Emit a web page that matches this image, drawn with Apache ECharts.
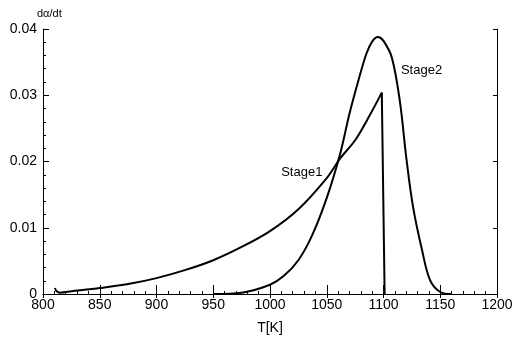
<!DOCTYPE html>
<html><head><meta charset="utf-8">
<script src="https://cdn.jsdelivr.net/npm/echarts@6/dist/echarts.min.js"></script>
<style>html,body{margin:0;padding:0;background:#fff}#c{width:518px;height:340px}</style>
</head><body><div id="c"></div>
<script>
const stage1 = [[810.5,0.0009],[812,0.0004],[815,0.0002],[825,0.0004],[850,0.0009],[875,0.0015],[900,0.0024],[925,0.0036],[950,0.0051],[975,0.0071],[1000,0.0095],[1025,0.0128],[1050,0.0175],[1062,0.0205],[1075,0.0232],[1087,0.0267],[1098.5,0.0304],[1101,0]];
const stage2 = [[950,0],[975,0.0002],[1000,0.0014],[1012,0.0027],[1025,0.0051],[1037,0.0088],[1050,0.0145],[1062,0.0213],[1070,0.0272],[1078,0.0323],[1085,0.0363],[1090,0.0381],[1095,0.0388],[1100,0.0382],[1107.5,0.0356],[1114.5,0.0290],[1120,0.0207],[1126,0.0132],[1134,0.0066],[1141,0.0021],[1150,0.0003],[1160,0]];
const xTicks = [800,850,900,950,1000,1050,1100,1150,1200];
const yTicks = [0,0.01,0.02,0.03,0.04];
const labels = [{name:'Stage1', coord:[1028,0.0184]},{name:'Stage2', coord:[1133.5,0.0338]}];

const chart = echarts.init(document.getElementById('c'));
const font = 'Liberation Sans, Arial, sans-serif';
const lineStyle = {color:'#000',width:2};
chart.setOption({
  animation:false,
  backgroundColor:'#fff',
  grid:{left:43,right:21,top:29,bottom:46,show:false},
  xAxis:[{
    type:'value', min:xTicks[0], max:xTicks[xTicks.length-1], interval:50,
    name:'T[K]', nameLocation:'middle', nameGap:27,
    nameTextStyle:{color:'#000',fontSize:14,fontFamily:font},
    axisLine:{show:true,lineStyle:{color:'#000',width:1}},
    axisTick:{show:true,inside:true,length:9,lineStyle:{color:'#000'}},
    minorTick:{show:true,splitNumber:5,length:3,lineStyle:{color:'#000'}},
    splitLine:{show:false},
    axisLabel:{color:'#000',fontSize:14,fontFamily:font,margin:4,formatter:v=>String(v)}
  },{
    type:'value', position:'top', min:800, max:1200, interval:50,
    axisLine:{show:true,lineStyle:{color:'#000',width:1}},
    axisTick:{show:true,inside:true,length:4,lineStyle:{color:'#000'}},
    splitLine:{show:false}, axisLabel:{show:false}
  }],
  yAxis:[{
    type:'value', min:yTicks[0], max:yTicks[yTicks.length-1], interval:0.01,
    name:'dα/dt', nameLocation:'end', nameGap:10,
    nameTextStyle:{color:'#000',fontSize:11,fontFamily:font,align:'left',padding:[0,0,0,-6]},
    axisLine:{show:true,lineStyle:{color:'#000',width:1}},
    axisTick:{show:true,inside:true,length:6,lineStyle:{color:'#000'}},
    minorTick:{show:true,splitNumber:5,length:3,lineStyle:{color:'#000'}},
    splitLine:{show:false},
    axisLabel:{color:'#000',fontSize:14,fontFamily:font,margin:6,
      formatter:v=> v===0?'0':v.toFixed(2)}
  },{
    type:'value', position:'right', min:0, max:0.04, interval:0.01,
    axisLine:{show:true,lineStyle:{color:'#000',width:1}},
    axisTick:{show:true,inside:true,length:4,lineStyle:{color:'#000'}},
    splitLine:{show:false}, axisLabel:{show:false}
  }],
  series:[{
    name:'Stage1', type:'line', data:stage1.slice(0,-1), showSymbol:false, smooth:0.3,
    lineStyle:lineStyle, xAxisIndex:0, yAxisIndex:0,
    markPoint:{symbol:'circle',symbolSize:0, silent:true,
      label:{show:true,position:'inside',color:'#000',fontSize:13,fontFamily:font,formatter:p=>p.name},
      data:labels}
  },{
    name:'Stage1 drop', type:'line', data:stage1.slice(-2), showSymbol:false, smooth:false,
    lineStyle:lineStyle, xAxisIndex:0, yAxisIndex:0
  },{
    name:'Stage2', type:'line', data:stage2, showSymbol:false, smooth:0.35,
    lineStyle:lineStyle, xAxisIndex:0, yAxisIndex:0
  }]
});
</script></body></html>
